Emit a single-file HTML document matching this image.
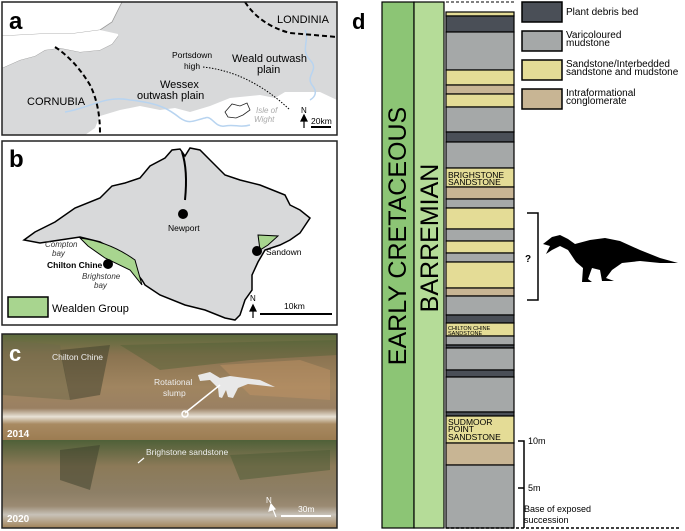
<!DOCTYPE html>
<html><head><style>
body{margin:0;width:685px;height:531px;background:#fff;overflow:hidden;font-family:"Liberation Sans",sans-serif}
svg{position:absolute;left:0;top:0}
</style></head><body>
<svg width="685" height="531" viewBox="0 0 685 531" font-family="Liberation Sans, sans-serif">
<!-- Panel a -->
<rect x="2" y="2" width="335" height="133" fill="#fff"/>
<path d="M2 2 H337 V100 L320 92 L300 92 L285 92 L275 98 L260 95 L250 96 L230 98 L210 106 L190 112 L175 108 L160 110 L140 106 L120 110 L100 116 L95 128 L85 135 L2 135 Z" fill="#d8d9da"/>
<path d="M2 36 L40 34 L70 34 L100 30 L112 22 L118 10 L122 2 H2 Z" fill="#fff" stroke="#999" stroke-width="0.8"/>
<path d="M2 68 L20 60 L35 56 L45 50 L60 48 L80 52 L100 50 L112 44 L118 36" fill="none" stroke="#999" stroke-width="0.8"/>
<path d="M2 68 L20 60 L35 56 L45 50 L60 48 L80 52 L100 50 L112 44 L118 36 L118 34 L100 30 L70 34 L40 34 L2 36 Z" fill="#fff"/>
<path d="M65 112 C90 108,105 95,130 100 C160 103,170 110,180 118 C190 125,195 120,205 118 C212 115,215 128,225 126 C235 124,240 128,250 125" fill="none" stroke="#b8d4f0" stroke-width="1.5"/>
<path d="M305 30 C310 40,300 50,310 60 C320 70,305 75,312 85 C318 92,315 97,310 100" fill="none" stroke="#b8d4f0" stroke-width="1.5"/>
<path d="M225 112 L232 104 L240 106 L247 103 L250 110 L243 115 L236 118 L228 117 Z" fill="#fff" stroke="#222" stroke-width="0.8"/>
<path d="M55 47 Q75 60 90 85 Q100 105 100 133" fill="none" stroke="#000" stroke-width="2" stroke-dasharray="5,3"/>
<path d="M245 2 Q260 25 290 33 L337 37" fill="none" stroke="#000" stroke-width="2" stroke-dasharray="5,3"/>
<path d="M203 67 Q250 72 290 110" fill="none" stroke="#000" stroke-width="1" stroke-dasharray="1.5,1.5"/>
<rect x="2" y="2" width="335" height="133" fill="none" stroke="#222" stroke-width="1.5"/>
<text x="9" y="29" font-size="24" font-weight="bold">a</text>
<text x="277" y="23" font-size="11">LONDINIA</text>
<text x="172" y="58" font-size="8.5">Portsdown</text>
<text x="184" y="69" font-size="8.5">high</text>
<text x="232" y="62" font-size="11">Weald outwash</text>
<text x="257" y="73" font-size="11">plain</text>
<text x="160" y="88" font-size="11">Wessex</text>
<text x="137" y="99" font-size="11">outwash plain</text>
<text x="27" y="105" font-size="11">CORNUBIA</text>
<text x="256" y="113" font-size="8" fill="#aaa" font-style="italic">Isle of</text>
<text x="254" y="122" font-size="8" fill="#aaa" font-style="italic">Wight</text>
<text x="301" y="113" font-size="8">N</text>
<path d="M304 128 V117 M301 121 L304 115 L307 121 Z" stroke="#000" fill="#000" stroke-width="1.2"/>
<text x="311" y="124" font-size="8.5">20km</text>
<rect x="311" y="126" width="20" height="2" fill="#000"/>

<!-- Panel b -->
<rect x="2" y="141" width="335" height="184" fill="#fff" stroke="#222" stroke-width="1.5"/>
<path d="M24 240 L35 232 L55 222 L75 208 L100 198 L112 186 L125 183 L140 178 L150 166 L165 158 L172 150 L180 149 L185 156 L190 148 L200 150 L210 160 L225 175 L240 180 L260 185 L285 195 L290 205 L300 210 L310 218 L300 233 L290 240 L280 245 L265 250 L258 262 L252 275 L252 290 L245 300 L240 315 L235 320 L225 318 L205 310 L185 305 L160 295 L145 285 L142 280 L130 265 L115 250 L100 242 L80 237 L60 240 L40 243 Z" fill="#d8d9da" stroke="#000" stroke-width="1.5"/>
<path d="M80 238 Q110 242 135 260 L142 285 L130 270 L105 258 L88 246 Z" fill="#a8d58f" stroke="#000" stroke-width="1"/>
<path d="M258 235 L278 236 L268 245 L260 250 Z" fill="#a8d58f" stroke="#000" stroke-width="1"/>
<path d="M182 152 Q188 170 185 200" fill="none" stroke="#000" stroke-width="2"/>
<circle cx="183" cy="214" r="5" fill="#000"/>
<circle cx="257" cy="251" r="5" fill="#000"/>
<circle cx="108" cy="264" r="5" fill="#000"/>
<text x="168" y="231" font-size="8.5">Newport</text>
<text x="266" y="255" font-size="8.5">Sandown</text>
<text x="47" y="268" font-size="8.5" font-weight="bold">Chilton Chine</text>
<text x="45" y="247" font-size="8" font-style="italic" fill="#333">Compton</text>
<text x="52" y="256" font-size="8" font-style="italic" fill="#333">bay</text>
<text x="82" y="279" font-size="8" font-style="italic" fill="#333">Brighstone</text>
<text x="94" y="288" font-size="8" font-style="italic" fill="#333">bay</text>
<rect x="8" y="297" width="40" height="20" fill="#a8d58f" stroke="#000" stroke-width="1.5"/>
<text x="52" y="312" font-size="11">Wealden Group</text>
<text x="250" y="301" font-size="8">N</text>
<path d="M253 318 V307 M250 311 L253 305 L256 311 Z" stroke="#000" fill="#000" stroke-width="1.2"/>
<text x="284" y="309" font-size="8.5">10km</text>
<rect x="260" y="313" width="72" height="2" fill="#000"/>
<text x="9" y="167" font-size="24" font-weight="bold">b</text>

<!-- Panel c -->
<defs>
<linearGradient id="g1" x1="0" y1="0" x2="0" y2="1">
<stop offset="0" stop-color="#5b6a3c"/><stop offset="0.2" stop-color="#8a7350"/><stop offset="0.5" stop-color="#a08560"/><stop offset="0.7" stop-color="#9a8062"/><stop offset="0.78" stop-color="#e8e2d6"/><stop offset="0.85" stop-color="#a88a62"/><stop offset="1" stop-color="#9c7c52"/>
</linearGradient>
<linearGradient id="g2" x1="0" y1="0" x2="0" y2="1">
<stop offset="0" stop-color="#4f6038"/><stop offset="0.3" stop-color="#8c7a58"/><stop offset="0.6" stop-color="#8d7f66"/><stop offset="0.75" stop-color="#9a8a72"/><stop offset="0.85" stop-color="#c8c2b8"/><stop offset="1" stop-color="#a08258"/>
</linearGradient>
</defs>
<rect x="2" y="334" width="335" height="106" fill="url(#g1)"/>
<rect x="2" y="440" width="335" height="88" fill="url(#g2)"/>
<path d="M2 340 L60 345 L70 400 L2 395 Z" fill="#6e6a4a" opacity="0.5"/>
<path d="M60 350 L110 345 L100 395 L70 400 Z" fill="#3e3f2c" opacity="0.5"/>
<path d="M120 345 L337 340 L337 355 L250 360 L160 370 Z" fill="#4f5f36" opacity="0.45"/>
<path d="M220 365 L300 360 L330 370 L330 400 L250 395 Z" fill="#c49466" opacity="0.45"/>
<path d="M60 450 L100 445 L90 490 L60 480 Z" fill="#3a3d2a" opacity="0.5"/>
<path d="M230 455 L330 450 L330 470 L240 480 Z" fill="#4a5a34" opacity="0.5"/>
<rect x="2" y="334" width="335" height="194" fill="none" stroke="#222" stroke-width="1.5"/>
<text x="9" y="361" font-size="22" font-weight="bold" fill="#fff">c</text>
<text x="52" y="360" font-size="8.5" fill="#eee">Chilton Chine</text>
<text x="154" y="385" font-size="8.5" fill="#eee">Rotational</text>
<text x="163" y="396" font-size="8.5" fill="#eee">slump</text>
<path d="M198 375 L210 372 L220 378 L230 376 L260 380 L275 387 L248 384 L238 388 L233 398 L228 397 L226 390 L222 398 L219 397 L218 388 L210 380 L200 381 Z" fill="#e8e8e8"/>
<line x1="185" y1="413" x2="220" y2="385" stroke="#fff" stroke-width="1.5"/>
<circle cx="185" cy="414" r="3" fill="none" stroke="#fff" stroke-width="1.5"/>
<text x="7" y="437" font-size="10" font-weight="bold" fill="#fff">2014</text>
<text x="146" y="455" font-size="8.5" fill="#eee">Brighstone sandstone</text>
<line x1="138" y1="463" x2="144" y2="458" stroke="#fff" stroke-width="1.2"/>
<text x="7" y="522" font-size="10" font-weight="bold" fill="#fff">2020</text>
<text x="266" y="503" font-size="8" fill="#fff">N</text>
<path d="M276 517 L272 507 M269 511 L271 504 L275 509 Z" stroke="#fff" fill="#fff" stroke-width="1.2"/>
<text x="298" y="512" font-size="8.5" fill="#fff">30m</text>
<rect x="281" y="515" width="50" height="2" fill="#fff"/>

<!-- Panel d -->
<text x="352" y="29" font-size="22" font-weight="bold">d</text>
<rect x="382" y="2" width="32" height="526" fill="#8cc575" stroke="#000" stroke-width="1.2"/>
<rect x="414" y="2" width="30" height="526" fill="#b5dc98" stroke="#000" stroke-width="1.2"/>
<text transform="translate(406,236) rotate(-90)" text-anchor="middle" font-size="25">EARLY CRETACEOUS</text>
<text transform="translate(438,238) rotate(-90)" text-anchor="middle" font-size="25">BARREMIAN</text>
<g stroke="#000" stroke-width="1.2">
<rect x="446" y="12" width="68" height="4" fill="#e4dc96"/>
<rect x="446" y="16" width="68" height="16" fill="#4a4f57"/>
<rect x="446" y="32" width="68" height="38" fill="#a5a8a8"/>
<rect x="446" y="70" width="68" height="15" fill="#e4dc96"/>
<rect x="446" y="85" width="68" height="9" fill="#c8b594"/>
<rect x="446" y="94" width="68" height="13" fill="#e4dc96"/>
<rect x="446" y="107" width="68" height="25" fill="#a5a8a8"/>
<rect x="446" y="132" width="68" height="10" fill="#4a4f57"/>
<rect x="446" y="142" width="68" height="26" fill="#a5a8a8"/>
<rect x="446" y="168" width="68" height="19" fill="#e4dc96"/>
<rect x="446" y="187" width="68" height="12" fill="#c8b594"/>
<rect x="446" y="199" width="68" height="9" fill="#a5a8a8"/>
<rect x="446" y="208" width="68" height="21" fill="#e4dc96"/>
<rect x="446" y="229" width="68" height="12" fill="#a5a8a8"/>
<rect x="446" y="241" width="68" height="12" fill="#e4dc96"/>
<rect x="446" y="253" width="68" height="9" fill="#a5a8a8"/>
<rect x="446" y="262" width="68" height="26" fill="#e4dc96"/>
<rect x="446" y="288" width="68" height="8" fill="#c8b594"/>
<rect x="446" y="296" width="68" height="19" fill="#a5a8a8"/>
<rect x="446" y="315" width="68" height="8" fill="#4a4f57"/>
<rect x="446" y="323" width="68" height="13" fill="#e4dc96"/>
<rect x="446" y="336" width="68" height="9" fill="#a5a8a8"/>
<rect x="446" y="345" width="68" height="3" fill="#4a4f57"/>
<rect x="446" y="348" width="68" height="22" fill="#a5a8a8"/>
<rect x="446" y="370" width="68" height="7" fill="#4a4f57"/>
<rect x="446" y="377" width="68" height="35" fill="#a5a8a8"/>
<rect x="446" y="412" width="68" height="4" fill="#4a4f57"/>
<rect x="446" y="416" width="68" height="27" fill="#e4dc96"/>
<rect x="446" y="443" width="68" height="22" fill="#c8b594"/>
<rect x="446" y="465" width="68" height="63" fill="#a5a8a8"/>
</g>
<line x1="446" y1="2" x2="514" y2="2" stroke="#000" stroke-dasharray="3,2"/>
<text x="448" y="178" font-size="8.5">BRIGHSTONE</text>
<text x="448" y="185" font-size="8.5">SANDSTONE</text>
<text x="448" y="330" font-size="5.5">CHILTON CHINE</text>
<text x="448" y="335" font-size="5.5">SANDSTONE</text>
<text x="448" y="425" font-size="8.5">SUDMOOR</text>
<text x="448" y="432" font-size="8.5">POINT</text>
<text x="448" y="440" font-size="8.5">SANDSTONE</text>
<path d="M518 441 H524 V528 M518 488 H524" fill="none" stroke="#000" stroke-width="1.5"/>
<text x="528" y="444" font-size="9">10m</text>
<text x="528" y="491" font-size="9">5m</text>
<text x="524" y="512" font-size="9">Base of exposed</text>
<text x="524" y="523" font-size="9">succession</text>
<line x1="446" y1="528" x2="680" y2="528" stroke="#000" stroke-width="1.5" stroke-dasharray="3,2"/>
<g stroke="#000" stroke-width="1.5">
<rect x="522" y="2" width="40" height="20" fill="#4a4f57"/>
<rect x="522" y="31" width="40" height="20" fill="#a5a8a8"/>
<rect x="522" y="60" width="40" height="20" fill="#e4dc96"/>
<rect x="522" y="89" width="40" height="20" fill="#c8b594"/>
</g>
<text x="566" y="15" font-size="10">Plant debris bed</text>
<text x="566" y="38" font-size="10">Varicoloured</text>
<text x="566" y="46" font-size="10">mudstone</text>
<text x="566" y="67" font-size="10">Sandstone/Interbedded</text>
<text x="566" y="75" font-size="10">sandstone and mudstone</text>
<text x="566" y="96" font-size="10">Intraformational</text>
<text x="566" y="104" font-size="10">conglomerate</text>
<path d="M527 213 H538 V300 H527" fill="none" stroke="#000" stroke-width="1.5"/>
<text x="525" y="262" font-size="10" font-weight="bold">?</text>
<path d="M543 244 L552 237 L560 235 L568 239 L575 244 L590 240 L605 238 L620 241 L640 250 L660 258 L678 263 L660 263 L640 261 L622 263 L612 270 L606 278 L614 281 L602 281 L600 270 L592 268 L588 279 L592 282 L582 282 L583 268 L576 262 L572 256 L568 250 L560 246 L552 250 L546 254 L550 246 Z" fill="#000"/>
</svg>
</body></html>
